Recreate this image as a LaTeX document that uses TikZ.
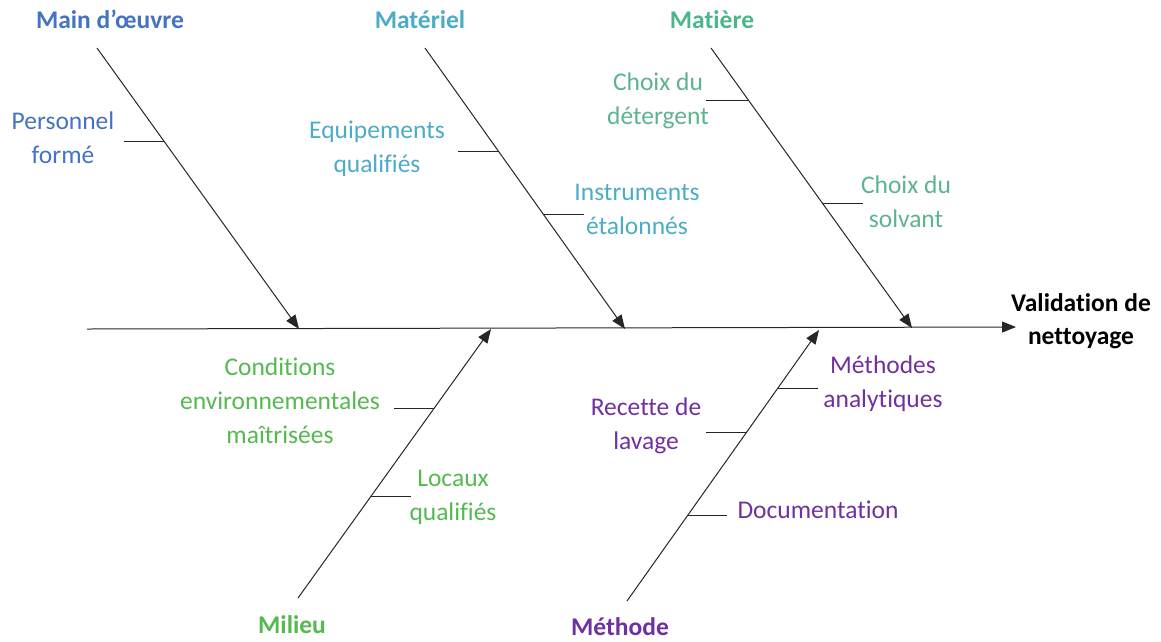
\documentclass[tikz,border=0pt]{standalone}
\usepackage{fontspec}
\setmainfont[Ligatures=NoCommon]{Carlito}
\usetikzlibrary{arrows.meta,calc}
\definecolor{cblue}{HTML}{4472C4}
\definecolor{cteal}{HTML}{4BACC6}
\definecolor{cmat}{HTML}{4DB58A}
\definecolor{cmatsub}{HTML}{5DB48C}
\definecolor{cmil}{HTML}{54B94E}
\definecolor{cpurp}{HTML}{7030A0}
\begin{document}
\begin{tikzpicture}[x=1pt,y=-1pt,
  lbl/.style={font=\fontsize{25.5}{34}\selectfont, align=center, inner sep=0pt},
  ttl/.style={font=\bfseries\fontsize{25.5}{33}\selectfont, align=center, inner sep=0pt},
  bone/.style={draw=black!85, line width=1pt, -{Triangle[length=14pt,width=11pt]}},
  tick/.style={draw=black!85, line width=1pt}]
\useasboundingbox (0,0) rectangle (1161,641);
% spine
\coordinate (s0) at (87,329);
\coordinate (s1) at (1016,327);
\draw[bone] (s0) -- (s1);
\node[ttl, text=black] (res) at (1081,321) {Validation de\\nettoyage};
% titles
\node[ttl, text=cblue, anchor=base] (tmo) at (110,28) {Main d’œuvre};
\node[ttl, text=cteal, anchor=base] (tmt) at (420,28) {Matériel};
\node[ttl, text=cmat, anchor=base] (tmr) at (712,28) {Matière};
\node[ttl, text=cmil, anchor=base] (tmi) at (292,633) {Milieu};
\node[ttl, text=cpurp, anchor=base] (tme) at (620,635) {Méthode};
% bones
\coordinate (a0) at (97,48);  \coordinate (a1) at (299,329);
\coordinate (b0) at (425,48); \coordinate (b1) at (625,329);
\coordinate (c0) at (711,48); \coordinate (c1) at (912,328);
\coordinate (d0) at (298,598); \coordinate (d1) at (491,329);
\coordinate (e0) at (627,601); \coordinate (e1) at (819,330);
\draw[bone] (a0) -- (a1);
\draw[bone] (b0) -- (b1);
\draw[bone] (c0) -- (c1);
\draw[bone] (d0) -- (d1);
\draw[bone] (e0) -- (e1);
% ticks
\coordinate (ta) at ($(a0)!0.331!(a1)$);
\draw[tick] (ta) -- ++(-40,0);
\coordinate (tb1) at ($(b0)!0.367!(b1)$);
\draw[tick] (tb1) -- ++(-40,0);
\coordinate (tb2) at ($(b0)!0.594!(b1)$);
\draw[tick] (tb2) -- ++(40,0);
\coordinate (tc1) at ($(c0)!0.186!(c1)$);
\draw[tick] (tc1) -- ++(-42,0);
\coordinate (tc2) at ($(c0)!0.557!(c1)$);
\draw[tick] (tc2) -- ++(40,0);
\coordinate (td1) at ($(d0)!0.706!(d1)$);
\draw[tick] (td1) -- ++(-40,0);
\coordinate (td2) at ($(d0)!0.379!(d1)$);
\draw[tick] (td2) -- ++(40,0);
\coordinate (te1) at ($(e0)!0.786!(e1)$);
\draw[tick] (te1) -- ++(40,0);
\coordinate (te2) at ($(e0)!0.62!(e1)$);
\draw[tick] (te2) -- ++(-40,0);
\coordinate (te3) at ($(e0)!0.314!(e1)$);
\draw[tick] (te3) -- ++(40,0);
% labels
\node[lbl, text=cblue] (la) at (63,138) {Personnel\\formé};
\node[lbl, text=cteal] (lb1) at (377,149) {Equipements\\qualifiés};
\node[lbl, text=cteal] (lb2) at (637,209) {Instruments\\étalonnés};
\node[lbl, text=cmatsub] (lc1) at (658,101) {Choix du\\détergent};
\node[lbl, text=cmatsub] (lc2) at (906,202) {Choix du\\solvant};
\node[lbl, text=cmil] (ld1) at (280,401) {Conditions\\environnementales\\maîtrisées};
\node[lbl, text=cmil] (ld2) at (453,497) {Locaux\\qualifiés};
\node[lbl, text=cpurp] (le1) at (883,384) {Méthodes\\analytiques};
\node[lbl, text=cpurp] (le2) at (646,426) {Recette de\\lavage};
\node[lbl, text=cpurp] (le3) at (818,510) {Documentation};
\end{tikzpicture}
\end{document}
